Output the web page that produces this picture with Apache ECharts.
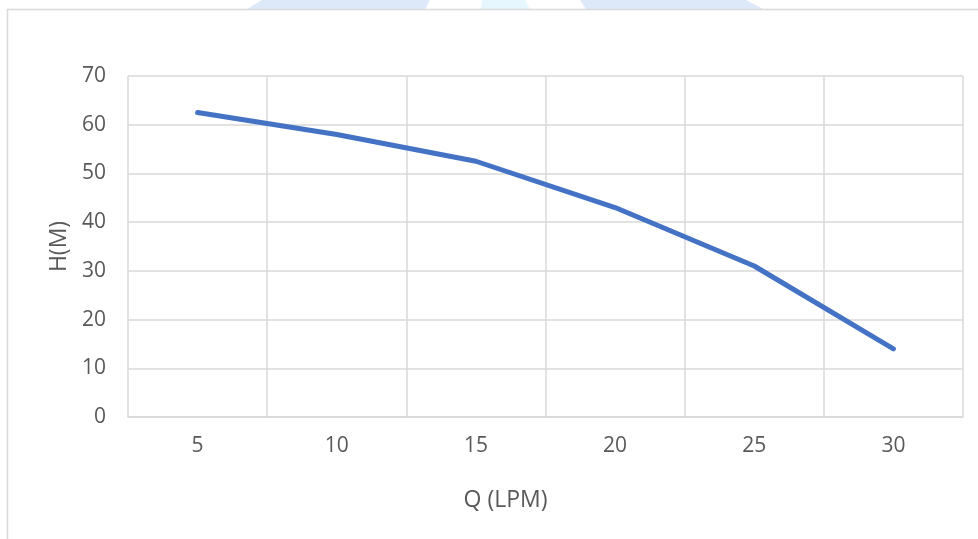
<!DOCTYPE html>
<html>
<head>
<meta charset="utf-8">
<script src="https://cdn.jsdelivr.net/npm/echarts@6/dist/echarts.min.js"></script>
<style>
html,body{margin:0;padding:0;background:#fff;}
#chart{width:978px;height:539px;}
</style>
</head>
<body>
<div id="chart"></div>
<script>
const categories = ['5', '10', '15', '20', '25', '30'];
const headValues = [62.5, 58, 52.5, 43, 31, 14];
const yTicks = { min: 0, max: 70, interval: 10 };
const xTitle = 'Q (LPM)';
const yTitle = 'H(M)';

const FONT = '"Open Sans", sans-serif';
const chart = echarts.init(document.getElementById('chart'), null, { renderer: 'canvas' });
chart.setOption({
  animation: false,
  backgroundColor: '#ffffff',
  graphic: [
    { type: 'polygon', z: -1, shape: { points: [[262,0],[430,0],[425,9],[247,9]] }, style: { fill: '#dde8f9' } },
    { type: 'polygon', z: -1, shape: { points: [[482,0],[525,0],[530,9],[481,9]] }, style: { fill: '#e6f8fd' } },
    { type: 'polygon', z: -1, shape: { points: [[580,0],[746,0],[763,9],[586,9]] }, style: { fill: '#dde8f9' } },
    { type: 'polyline', z: 0, shape: { points: [[978,9.5],[7.5,9.5],[7.5,539]] }, style: { stroke: '#d9d9d9', lineWidth: 1.5, fill: null } }
  ],
  grid: { left: 128, right: 15, top: 76, bottom: 122, containLabel: false },
  xAxis: {
    type: 'category',
    data: categories,
    boundaryGap: true,
    name: xTitle,
    nameLocation: 'middle',
    nameGap: 72,
    nameTextStyle: { fontFamily: FONT, fontSize: 23, color: '#595959', padding: [0, 80, 0, 0] },
    axisLine: { show: true, lineStyle: { color: '#d9d9d9', width: 1.5 } },
    axisTick: { show: false },
    axisLabel: { fontFamily: FONT, fontSize: 21, color: '#595959', margin: 19 },
    splitLine: { show: true, lineStyle: { color: '#d9d9d9', width: 1.5 } }
  },
  yAxis: {
    type: 'value',
    min: yTicks.min,
    max: yTicks.max,
    interval: yTicks.interval,
    name: yTitle,
    nameLocation: 'middle',
    nameGap: 57,
    nameTextStyle: { fontFamily: FONT, fontSize: 23, color: '#595959' },
    axisLine: { show: false },
    axisTick: { show: false },
    axisLabel: { fontFamily: FONT, fontSize: 21, color: '#595959', margin: 22 },
    splitLine: { show: true, lineStyle: { color: '#d9d9d9', width: 1.5 } }
  },
  series: [{
    type: 'line',
    data: headValues,
    showSymbol: false,
    symbol: 'none',
    smooth: false,
    lineStyle: { color: '#4472C4', width: 5, cap: 'round', join: 'round' }
  }]
});
</script>
</body>
</html>
